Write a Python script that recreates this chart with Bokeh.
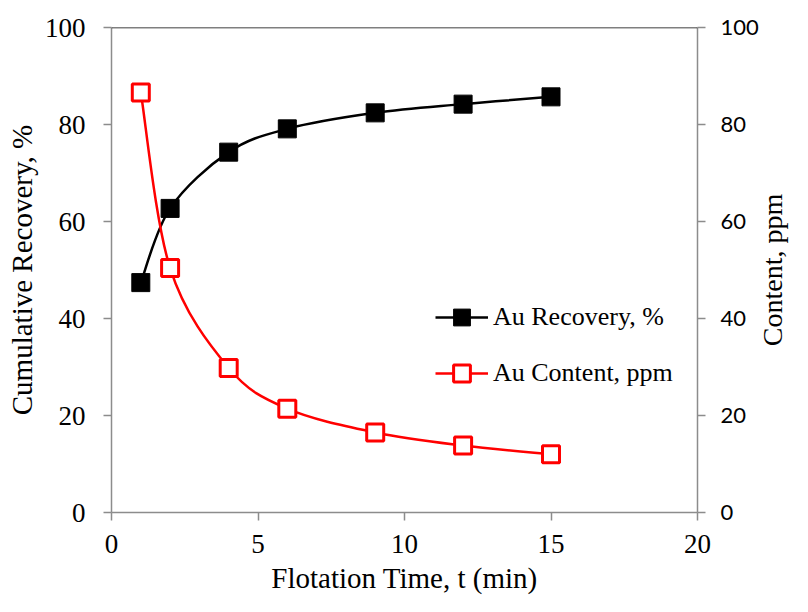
import math
from bokeh.plotting import figure
from bokeh.models import (Range1d, LinearAxis, FixedTicker, Legend, LegendItem,
                          Span, Label, ColumnDataSource)
from bokeh.embed import file_html
from bokeh.resources import INLINE

# ---- data ----
time_min = [1, 2, 4, 6, 9, 12, 15]
au_recovery = [47.4, 62.7, 74.3, 79.1, 82.4, 84.2, 85.7]
au_content = [86.6, 50.4, 29.8, 21.4, 16.5, 13.8, 12.0]
x_ticks = [0, 5, 10, 15, 20]
y_ticks = [0, 20, 40, 60, 80, 100]

SERIF = "Liberation Serif"
SANS = "Lato"
AXIS_GRAY = "#8c8c8c"


def smooth_segments(xs, ys):
    """Catmull-Rom style Bezier control points (Excel-like smoothed line)."""
    n = len(xs)
    d = dict(x0=[], y0=[], x1=[], y1=[], cx0=[], cy0=[], cx1=[], cy1=[])
    for i in range(n - 1):
        p0 = (xs[max(i - 1, 0)], ys[max(i - 1, 0)])
        p1 = (xs[i], ys[i])
        p2 = (xs[i + 1], ys[i + 1])
        p3 = (xs[min(i + 2, n - 1)], ys[min(i + 2, n - 1)])
        d["x0"].append(p1[0]); d["y0"].append(p1[1])
        d["x1"].append(p2[0]); d["y1"].append(p2[1])
        d["cx0"].append(p1[0] + (p2[0] - p0[0]) / 6.0)
        d["cy0"].append(p1[1] + (p2[1] - p0[1]) / 6.0)
        d["cx1"].append(p2[0] - (p3[0] - p1[0]) / 6.0)
        d["cy1"].append(p2[1] - (p3[1] - p1[1]) / 6.0)
    return ColumnDataSource(d)


p = figure(width=792, height=596, output_backend="svg", toolbar_location=None,
           x_range=Range1d(0, 20), y_range=Range1d(0, 100),
           min_border_left=111, min_border_right=92,
           min_border_top=27, min_border_bottom=84)
p.extra_y_ranges = {"content": Range1d(0, 100)}
p.outline_line_color = None
p.xgrid.visible = False
p.ygrid.visible = False
p.background_fill_color = "white"
p.border_fill_color = "white"


def style_axis(ax, font, size):
    ax.axis_line_color = AXIS_GRAY
    ax.axis_line_width = 1.5
    ax.major_tick_line_color = AXIS_GRAY
    ax.major_tick_line_width = 1.5
    ax.major_tick_out = 8
    ax.major_tick_in = 0
    ax.minor_tick_line_color = None
    ax.major_label_text_font = font
    ax.major_label_text_font_size = size
    ax.major_label_text_color = "black"
    ax.axis_label_text_font = SERIF
    ax.axis_label_text_font_size = "29px"
    ax.axis_label_text_font_style = "normal"
    ax.axis_label_text_color = "black"


xa = p.xaxis[0]
xa.ticker = FixedTicker(ticks=x_ticks)
xa.axis_label = "Flotation Time, t (min)"
style_axis(xa, SERIF, "27px")
xa.major_label_standoff = 14
xa.axis_label_standoff = 6

ya = p.yaxis[0]
ya.ticker = FixedTicker(ticks=y_ticks)
ya.axis_label = "Cumulative Recovery, %"
style_axis(ya, SERIF, "27px")
ya.major_label_standoff = 18
ya.axis_label_standoff = 4

ra = LinearAxis(y_range_name="content", ticker=FixedTicker(ticks=y_ticks))
style_axis(ra, SANS, "22px")
ra.major_label_standoff = 15
p.add_layout(ra, "right")

p.add_layout(Span(location=100, dimension="width", line_color="black", line_width=1.5))

# right-hand axis title, reading bottom-to-top like the reference
p.add_layout(Label(x=22.55, y=50, text="Content, ppm", angle=math.pi / 2,
                   text_align="center", text_baseline="middle", level="overlay",
                   text_font=SERIF, text_font_size="28px", text_color="black"),
             "right")

rec_curve = p.bezier(x0="x0", y0="y0", x1="x1", y1="y1", cx0="cx0", cy0="cy0",
                     cx1="cx1", cy1="cy1", source=smooth_segments(time_min, au_recovery),
                     line_color="black", line_width=2.5)
con_curve = p.bezier(x0="x0", y0="y0", x1="x1", y1="y1", cx0="cx0", cy0="cy0",
                     cx1="cx1", cy1="cy1", source=smooth_segments(time_min, au_content),
                     line_color="red", line_width=2.5, y_range_name="content")

rec_pts = p.scatter(time_min, au_recovery, marker="square", size=18,
                    fill_color="black", line_color="black", line_width=1)
con_pts = p.scatter(time_min, au_content, marker="square", size=17,
                    fill_color="white", line_color="red", line_width=3,
                    y_range_name="content")

legend = Legend(items=[LegendItem(label="Au Recovery, %", renderers=[rec_curve, rec_pts]),
                       LegendItem(label="Au Content, ppm", renderers=[con_curve, con_pts])],
                location=(324, 118), orientation="vertical",
                glyph_width=53, glyph_height=42, spacing=14, label_standoff=5,
                padding=0, margin=0, border_line_alpha=0, background_fill_alpha=0,
                label_text_font=SERIF, label_text_font_size="26px",
                label_text_color="black", label_text_baseline="middle")
p.add_layout(legend, "center")

open("out.html", "w").write(file_html(p, INLINE))
